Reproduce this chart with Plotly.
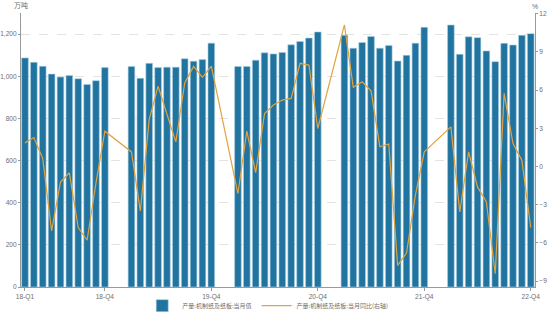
import plotly.graph_objects as go

years = [2018, 2019, 2020, 2021, 2022]
month_nums = list(range(1, 13))

# Monthly output (万吨), Mar-Dec each year (Jan/Feb not reported)
output_vals = {
    2018: [1087, 1066, 1047, 1010, 996, 1003, 988, 961, 979, 1041],
    2019: [1046, 990, 1061, 1041, 1043, 1043, 1083, 1071, 1079, 1157],
    2020: [1046, 1046, 1076, 1111, 1106, 1113, 1149, 1165, 1181, 1210],
    2021: [1195, 1133, 1160, 1189, 1133, 1146, 1072, 1099, 1157, 1232],
    2022: [1243, 1104, 1187, 1183, 1120, 1069, 1156, 1148, 1194, 1202],
}
# YoY (%), Mar-Dec each year
yoy_vals = {
    2018: [1.85, 2.27, 0.62, -5.07, -1.22, -0.5, -4.8, -5.8, -1.3, 2.77],
    2019: [1.14, -3.5, 3.7, 6.31, 4.1, 1.93, 6.55, 7.86, 7.0, 7.88],
    2020: [-2.13, 2.77, -0.48, 4.16, 4.82, 5.21, 5.34, 8.1, 7.96, 2.98],
    2021: [11.11, 6.21, 6.65, 5.94, 1.54, 1.75, -7.77, -6.8, -2.26, 1.14],
    2022: [3.11, -3.58, 1.14, -1.61, -2.79, -8.43, 5.74, 1.8, 0.49, -4.8],
}
tick_months = ["2018-03", "2018-12", "2019-12", "2020-12", "2021-12", "2022-12"]
tick_labels = ["18-Q1", "18-Q4", "19-Q4", "20-Q4", "21-Q4", "22-Q4"]

bar_name = "产量:机制纸及纸板:当月值"
line_name = "产量:机制纸及纸板:当月同比(右轴)"

months, bars, line = [], [], []
for y in years:
    for m in month_nums:
        if y == 2018 and m < 3:
            continue
        months.append(f"{y}-{m:02d}")
        if m < 3:
            bars.append(None)
            line.append(None)
        else:
            bars.append(output_vals[y][m - 3])
            line.append(yoy_vals[y][m - 3])

FONT = "Liberation Sans, Noto Sans CJK SC, sans-serif"
CJK = "Noto Sans CJK SC, sans-serif"
GREY = "#6e6e6e"

fig = go.Figure()
fig.add_trace(go.Bar(
    x=months, y=bars, name=bar_name,
    marker=dict(color="#21749f", line=dict(color="#a9cfe3", width=0.6)),
))
fig.add_trace(go.Scatter(
    x=months, y=line, name=line_name, yaxis="y2", mode="lines",
    connectgaps=True, line=dict(color="#e1a33f", width=1.2),
))

tickfont = dict(family=FONT, size=6.6, color=GREY)

fig.update_layout(
    width=550, height=312,
    margin=dict(l=21, r=15, t=13, b=25, autoexpand=False),
    plot_bgcolor="white", paper_bgcolor="white",
    bargap=0.25,
    font=dict(family=FONT, size=7, color=GREY),
    showlegend=True,
    legend=dict(orientation="h", x=0.48, xanchor="center", y=-0.068, yanchor="middle",
                bgcolor="rgba(0,0,0,0)", font=dict(family=CJK, size=6, color=GREY),
                itemwidth=30, tracegroupgap=0),
    xaxis=dict(
        type="category", categoryorder="array", categoryarray=months,
        range=[-0.45, len(months) - 0.52], automargin=False,
        tickmode="array", tickvals=tick_months, ticktext=tick_labels,
        ticks="outside", ticklen=3, tickcolor="#999", showgrid=False,
        showline=True, linecolor="#999", linewidth=1, zeroline=False,
        tickfont=tickfont,
    ),
    yaxis=dict(
        range=[0, 1300], tickvals=[0, 200, 400, 600, 800, 1000, 1200], tickformat=",d",
        ticks="outside", ticklen=2, tickcolor="#999", automargin=False,
        showline=True, linecolor="#999", linewidth=1,
        showgrid=True, gridcolor="#e3e3e3", griddash="dash", gridwidth=1, zeroline=False,
        tickfont=tickfont,
    ),
    yaxis2=dict(
        overlaying="y", side="right", range=[-9.47, 12.05], automargin=False,
        tickvals=[-9, -6, -3, 0, 3, 6, 9, 12],
        ticks="outside", ticklen=2, tickcolor="#999",
        showline=True, linecolor="#999", linewidth=1,
        showgrid=False, zeroline=False,
        tickfont=tickfont,
    ),
    annotations=[
        dict(text="万吨", xref="paper", yref="paper", x=0, y=1, xanchor="center", yanchor="bottom",
             yshift=1, showarrow=False, font=dict(family=CJK, size=7, color=GREY)),
        dict(text="%", xref="paper", yref="paper", x=1, y=1, xanchor="center", yanchor="bottom",
             yshift=1, showarrow=False, font=dict(family=FONT, size=7, color=GREY)),
    ],
)

fig.write_html("out.html")
